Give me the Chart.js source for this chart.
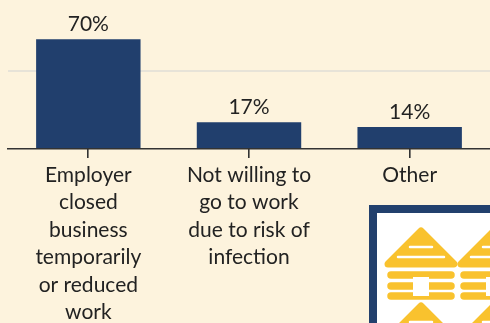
<!DOCTYPE html>
<html>
<head>
<meta charset="utf-8">
<script src="https://cdn.jsdelivr.net/npm/chart.js@4/dist/chart.umd.min.js"></script>
<style>
  html, body { margin: 0; padding: 0; background: #fdf3dd; overflow: hidden; }
  #wrap { width: 490px; height: 323px; position: relative; }
</style>
</head>
<body>
<div id="wrap"><canvas id="reasonChart"></canvas></div>
<script>
const categories = [
  ["Employer", "closed", "business", "temporarily", "or reduced", "work"],
  ["Not willing to", "go to work", "due to risk of", "infection"],
  ["Other"],
];
const shares = [70, 17, 14];
const gridTicks = [0, 50];

const barColor = "#213f6d";
const textColor = "#222222";
const axisColor = "#333333";
const fontFamily = "Lato, 'Open Sans', sans-serif";

// percentage above each bar
const valueLabels = {
  id: "valueLabels",
  afterDatasetsDraw(chart) {
    const ctx = chart.ctx;
    const meta = chart.getDatasetMeta(0);
    ctx.save();
    ctx.fillStyle = textColor;
    ctx.font = "21px " + fontFamily;
    ctx.textAlign = "center";
    ctx.textBaseline = "alphabetic";
    meta.data.forEach((bar, i) => {
      ctx.fillText(shares[i] + "%", bar.x, bar.y - 8);
    });
    ctx.restore();
  },
};

// short tick marks under the axis, centred on each category
const centerTicks = {
  id: "centerTicks",
  afterDraw(chart) {
    const scale = chart.scales.x;
    const ctx = chart.ctx;
    ctx.save();
    ctx.fillStyle = axisColor;
    for (let i = 0; i < categories.length; i++) {
      const x = Math.round(scale.getPixelForValue(i));
      ctx.fillRect(x - 1, chart.chartArea.bottom, 1.6, 9);
    }
    ctx.restore();
  },
};

// log cabin badge in the lower right corner
function drawCabin(ctx, cx, top) {
  const yellow = "#f9c22e";
  ctx.fillStyle = yellow;
  ctx.strokeStyle = yellow;
  ctx.lineJoin = "round";
  ctx.lineWidth = 7;
  // roof
  ctx.beginPath();
  ctx.moveTo(cx, top + 3);
  ctx.lineTo(cx + 33, top + 36);
  ctx.lineTo(cx - 33, top + 36);
  ctx.closePath();
  ctx.fill();
  ctx.stroke();
  // stripes in the roof
  ctx.strokeStyle = "#ffffff";
  ctx.lineCap = "round";
  ctx.lineWidth = 2.5;
  ctx.beginPath();
  ctx.moveTo(cx - 11, top + 19);
  ctx.lineTo(cx + 11, top + 19);
  ctx.moveTo(cx - 23, top + 29);
  ctx.lineTo(cx + 23, top + 29);
  ctx.stroke();
  // logs
  ctx.strokeStyle = yellow;
  ctx.lineWidth = 7.5;
  [47, 58, 68].forEach((dy) => {
    ctx.beginPath();
    ctx.moveTo(cx - 30, top + dy);
    ctx.lineTo(cx + 30, top + dy);
    ctx.stroke();
  });
  // door
  ctx.fillStyle = "#ffffff";
  ctx.fillRect(cx - 8, top + 49, 16, 19);
}

const badge = {
  id: "badge",
  afterDraw(chart) {
    const ctx = chart.ctx;
    ctx.save();
    ctx.fillStyle = "#22406d";
    ctx.fillRect(369, 205, 140, 130);
    ctx.fillStyle = "#ffffff";
    ctx.fillRect(377, 213, 130, 120);
    ctx.beginPath();
    ctx.rect(377, 213, 130, 120);
    ctx.clip();
    drawCabin(ctx, 421, 228);
    drawCabin(ctx, 494, 228);
    drawCabin(ctx, 421, 303);
    drawCabin(ctx, 494, 303);
    ctx.restore();
  },
};

const ctx = document.getElementById("reasonChart").getContext("2d");
const reasonChart = new Chart(ctx, {
  type: "bar",
  data: {
    labels: categories,
    datasets: [
      {
        data: shares,
        backgroundColor: barColor,
        borderWidth: 0,
        barPercentage: 0.65,
        categoryPercentage: 1,
      },
    ],
  },
  options: {
    responsive: true,
    maintainAspectRatio: false,
    animation: false,
    layout: { padding: { left: 8, right: 0, top: 0, bottom: 0 } },
    plugins: {
      legend: { display: false },
      tooltip: { enabled: false },
    },
    scales: {
      x: {
        border: { display: true, color: axisColor, width: 1.5 },
        grid: {
          drawOnChartArea: false,
          drawTicks: false,
        },
        ticks: {
          color: textColor,
          font: { family: fontFamily, size: 21, lineHeight: 1.31 },
          padding: 12,
          maxRotation: 0,
          autoSkip: false,
        },
        afterFit: (scale) => {
          scale.height = 174;
        },
      },
      y: {
        min: 0,
        max: 95,
        border: { display: false },
        grid: {
          drawTicks: false,
          lineWidth: 2,
          color: (c) => (c.tick && c.tick.value === 50 ? "#e7e3d8" : "rgba(0,0,0,0)"),
        },
        ticks: { display: false },
        afterBuildTicks: (scale) => {
          scale.ticks = gridTicks.map((v) => ({ value: v }));
        },
        afterFit: (scale) => {
          scale.width = 0;
        },
      },
    },
  },
  plugins: [valueLabels, centerTicks, badge],
});
</script>
</body>
</html>
